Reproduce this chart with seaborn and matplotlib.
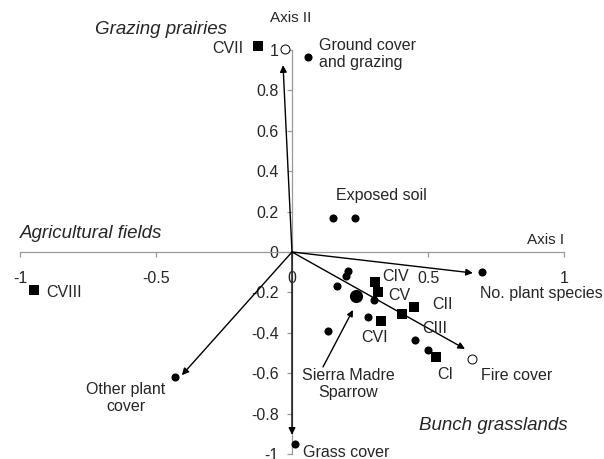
import matplotlib
matplotlib.use("Agg")
import matplotlib.pyplot as plt
import seaborn as sns
import pandas as pd

# Sites (squares)
site_names = ["CI", "CII", "CIII", "CIV", "CV", "CVI", "CVII", "CVIII"]
site_x = [0.53, 0.45, 0.405, 0.305, 0.317, 0.327, -0.125, -0.95]
site_y = [-0.52, -0.27, -0.307, -0.15, -0.20, -0.34, 1.02, -0.19]

# Filled circles (variables / species)
dot_x = [0.06, 0.15, 0.23, 0.70, -0.43, 0.01, 0.206, 0.199, 0.165, 0.30, 0.28, 0.133, 0.452, 0.50]
dot_y = [0.965, 0.17, 0.17, -0.10, -0.62, -0.95, -0.094, -0.119, -0.168, -0.24, -0.32, -0.39, -0.435, -0.485]

# Open circles
open_x = [-0.026, 0.66]
open_y = [1.005, -0.53]

# Sierra Madre Sparrow
sparrow_x = [0.235]
sparrow_y = [-0.22]

# Environmental vectors
vec_names = ["Grazing", "No. plant species", "Fire cover", "Other plant cover", "Grass cover"]
vec_x = [-0.033, 0.665, 0.636, -0.405, 0.0]
vec_y = [0.925, -0.104, -0.48, -0.61, -0.905]

xticks = [-1, -0.5, 0, 0.5, 1]
yticks = [-1, -0.8, -0.6, -0.4, -0.2, 0, 0.2, 0.4, 0.6, 0.8, 1]

sns.set_style("white")
plt.rcParams["font.family"] = ["Liberation Sans", "DejaVu Sans"]

fig = plt.figure(figsize=(6.04, 4.59), dpi=100)
ax = fig.add_axes([0, 0, 1, 1])

sites = pd.DataFrame({"x": site_x, "y": site_y, "name": site_names})
dots = pd.DataFrame({"x": dot_x, "y": dot_y})
opens = pd.DataFrame({"x": open_x, "y": open_y})
sparrow = pd.DataFrame({"x": sparrow_x, "y": sparrow_y})

# Vectors
for vx, vy in zip(vec_x, vec_y):
    ax.annotate("", xy=(vx, vy), xytext=(0, 0),
                arrowprops=dict(arrowstyle="-|>", color="black", lw=1.0,
                                mutation_scale=10, shrinkA=0, shrinkB=0),
                zorder=3)

sns.scatterplot(data=dots, x="x", y="y", ax=ax, color="black", marker="o",
                s=34, edgecolor="black", linewidth=0, zorder=4, legend=False)
sns.scatterplot(data=opens, x="x", y="y", ax=ax, color="white", marker="o",
                s=42, edgecolor="black", linewidth=0.7, zorder=4, legend=False)
sns.scatterplot(data=sites, x="x", y="y", ax=ax, color="black", marker="s",
                s=50, edgecolor="black", linewidth=0, zorder=4, legend=False)
sns.scatterplot(data=sparrow, x="x", y="y", ax=ax, color="black", marker="o",
                s=90, edgecolor="black", linewidth=0, zorder=4, legend=False)

ax.set_xlim(-1.0735, 1.147)
ax.set_ylim(-1.0248, 1.2475)
ax.set_xlabel("")
ax.set_ylabel("")

# Axes through origin
for s in ["top", "right"]:
    ax.spines[s].set_visible(False)
ax.spines["left"].set_position(("data", 0))
ax.spines["bottom"].set_position(("data", 0))
ax.spines["left"].set_bounds(-1, 1)
ax.spines["bottom"].set_bounds(-1, 1)
for s in ["left", "bottom"]:
    ax.spines[s].set_color("#9a9a9a")
    ax.spines[s].set_linewidth(0.9)
    ax.spines[s].set_zorder(1)

ax.set_xticks(xticks)
ax.set_xticklabels([f"{t:g}" for t in xticks])
ax.set_yticks(yticks)
ax.set_yticklabels([f"{t:g}" for t in yticks])
ax.tick_params(axis="x", direction="out", length=3.6, color="#9a9a9a", width=0.9,
               labelsize=11.5, pad=10, bottom=True)
ax.tick_params(axis="y", direction="out", length=3.6, color="#9a9a9a", width=0.9,
               labelsize=11.5, pad=6, left=True)
ax.patch.set_alpha(0)

fs = 11.5
dy = -0.012
# Site labels
site_label_pos = {
    "CI": (0.535, -0.595, "left"),
    "CII": (0.515, -0.25, "left"),
    "CIII": (0.478, -0.365, "left"),
    "CIV": (0.33, -0.11, "left"),
    "CV": (0.352, -0.205, "left"),
    "CVI": (0.255, -0.41, "left"),
    "CVII": (-0.18, 1.02, "right"),
    "CVIII": (-0.905, -0.19, "left"),
}
for n in site_names:
    lx, ly, ha = site_label_pos[n]
    ax.text(lx, ly + dy, n, fontsize=fs, ha=ha, va="center")

ax.text(0.1, 0.98, "Ground cover\nand grazing", fontsize=fs, ha="left", va="center",
        linespacing=1.2)
ax.text(0.162, 0.28, "Exposed soil", fontsize=fs, ha="left", va="center")
ax.text(0.69, -0.195 + dy, "No. plant species", fontsize=fs, ha="left", va="center")
ax.text(0.695, -0.6 + dy, "Fire cover", fontsize=fs, ha="left", va="center")
ax.text(-0.61, -0.723, "Other plant\ncover", fontsize=fs, ha="center", va="center",
        linespacing=1.2)
ax.text(0.04, -0.98 + dy, "Grass cover", fontsize=fs, ha="left", va="center")
ax.text(-0.005, 1.16, "Axis II", fontsize=fs - 0.5, ha="center", va="center")
ax.text(1.0, 0.06, "Axis I", fontsize=fs - 0.5, ha="right", va="center")

ax.text(-0.48, 1.1, "Grazing prairies", fontsize=13.5, style="italic", ha="center", va="center")
ax.text(-1.0, 0.09, "Agricultural fields", fontsize=13.5, style="italic", ha="left", va="center")
ax.text(0.467, -0.86, "Bunch grasslands", fontsize=13.5, style="italic", ha="left", va="center")

ax.text(0.206, -0.653, "Sierra Madre\nSparrow", fontsize=fs, ha="center", va="center",
        linespacing=1.2)
ax.annotate("", xy=(0.224, -0.287), xytext=(0.114, -0.569),
            arrowprops=dict(arrowstyle="-|>", color="black", lw=1.0,
                            mutation_scale=9, shrinkA=0, shrinkB=0),
            zorder=3)

fig.savefig("out.png", dpi=100)
